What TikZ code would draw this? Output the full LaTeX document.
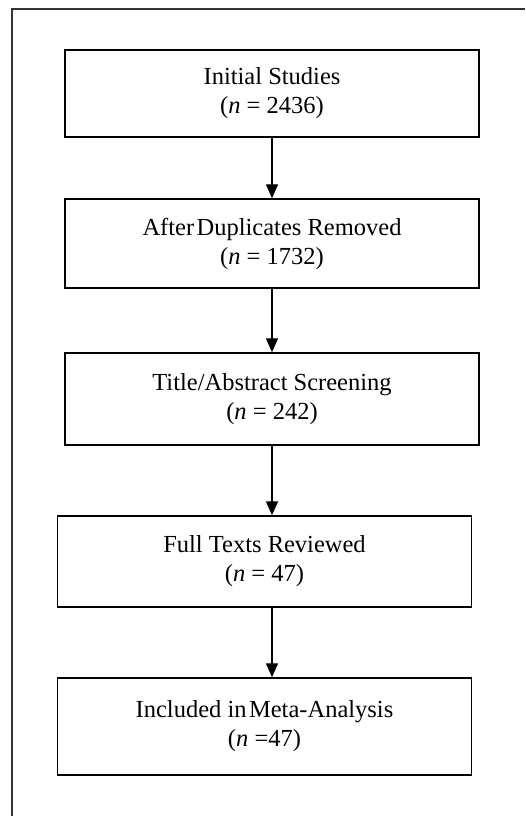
\documentclass[tikz,border=0pt]{standalone}
\usepackage{fontspec}
\setmainfont{Liberation Serif}
\usetikzlibrary{arrows.meta, positioning}

\begin{document}
\begin{tikzpicture}[x=1pt, y=1pt,
  every node/.style={font=\fontsize{24.5}{29}\selectfont},
  box/.style={rectangle, draw, line width=1.4pt, minimum width=414pt,
              align=center, inner sep=0pt},
  arr/.style={-{Triangle[length=14pt,width=12pt]}, line width=1.3pt}
]
\useasboundingbox (0,0) rectangle (525,816);
\draw[line width=1.2pt, black!80] (12,0) -- (12,807) -- (525,807);

\node[box, minimum height=87pt] (init) at (272,722.5)
  {Initial Studies\\(\textit{n} = 2436)};
\node[box, minimum height=89pt, below=60.6pt of init] (dedup)
  {After\hspace{0.1em}Duplicates Removed\\(\textit{n} = 1732)};
\node[box, minimum height=92pt, below=63.6pt of dedup] (screen)
  {Title/Abstract Screening\\(\textit{n} = 242)};
\node[box, minimum height=91pt, below=69.6pt of screen, xshift=-7.5pt] (full)
  {Full Texts Reviewed\\(\textit{n} = 47)};
\node[box, minimum height=97pt, below=69.6pt of full] (incl)
  {Included in\hspace{0.1em}Meta-Analysis\\(\textit{n} =47)};

\draw[arr] (init) -- (dedup);
\draw[arr] (dedup) -- (screen);
\draw[arr] (screen.south) -- (screen.south |- full.north);
\draw[arr] (screen.south |- full.south) -- (screen.south |- incl.north);
\end{tikzpicture}
\end{document}
